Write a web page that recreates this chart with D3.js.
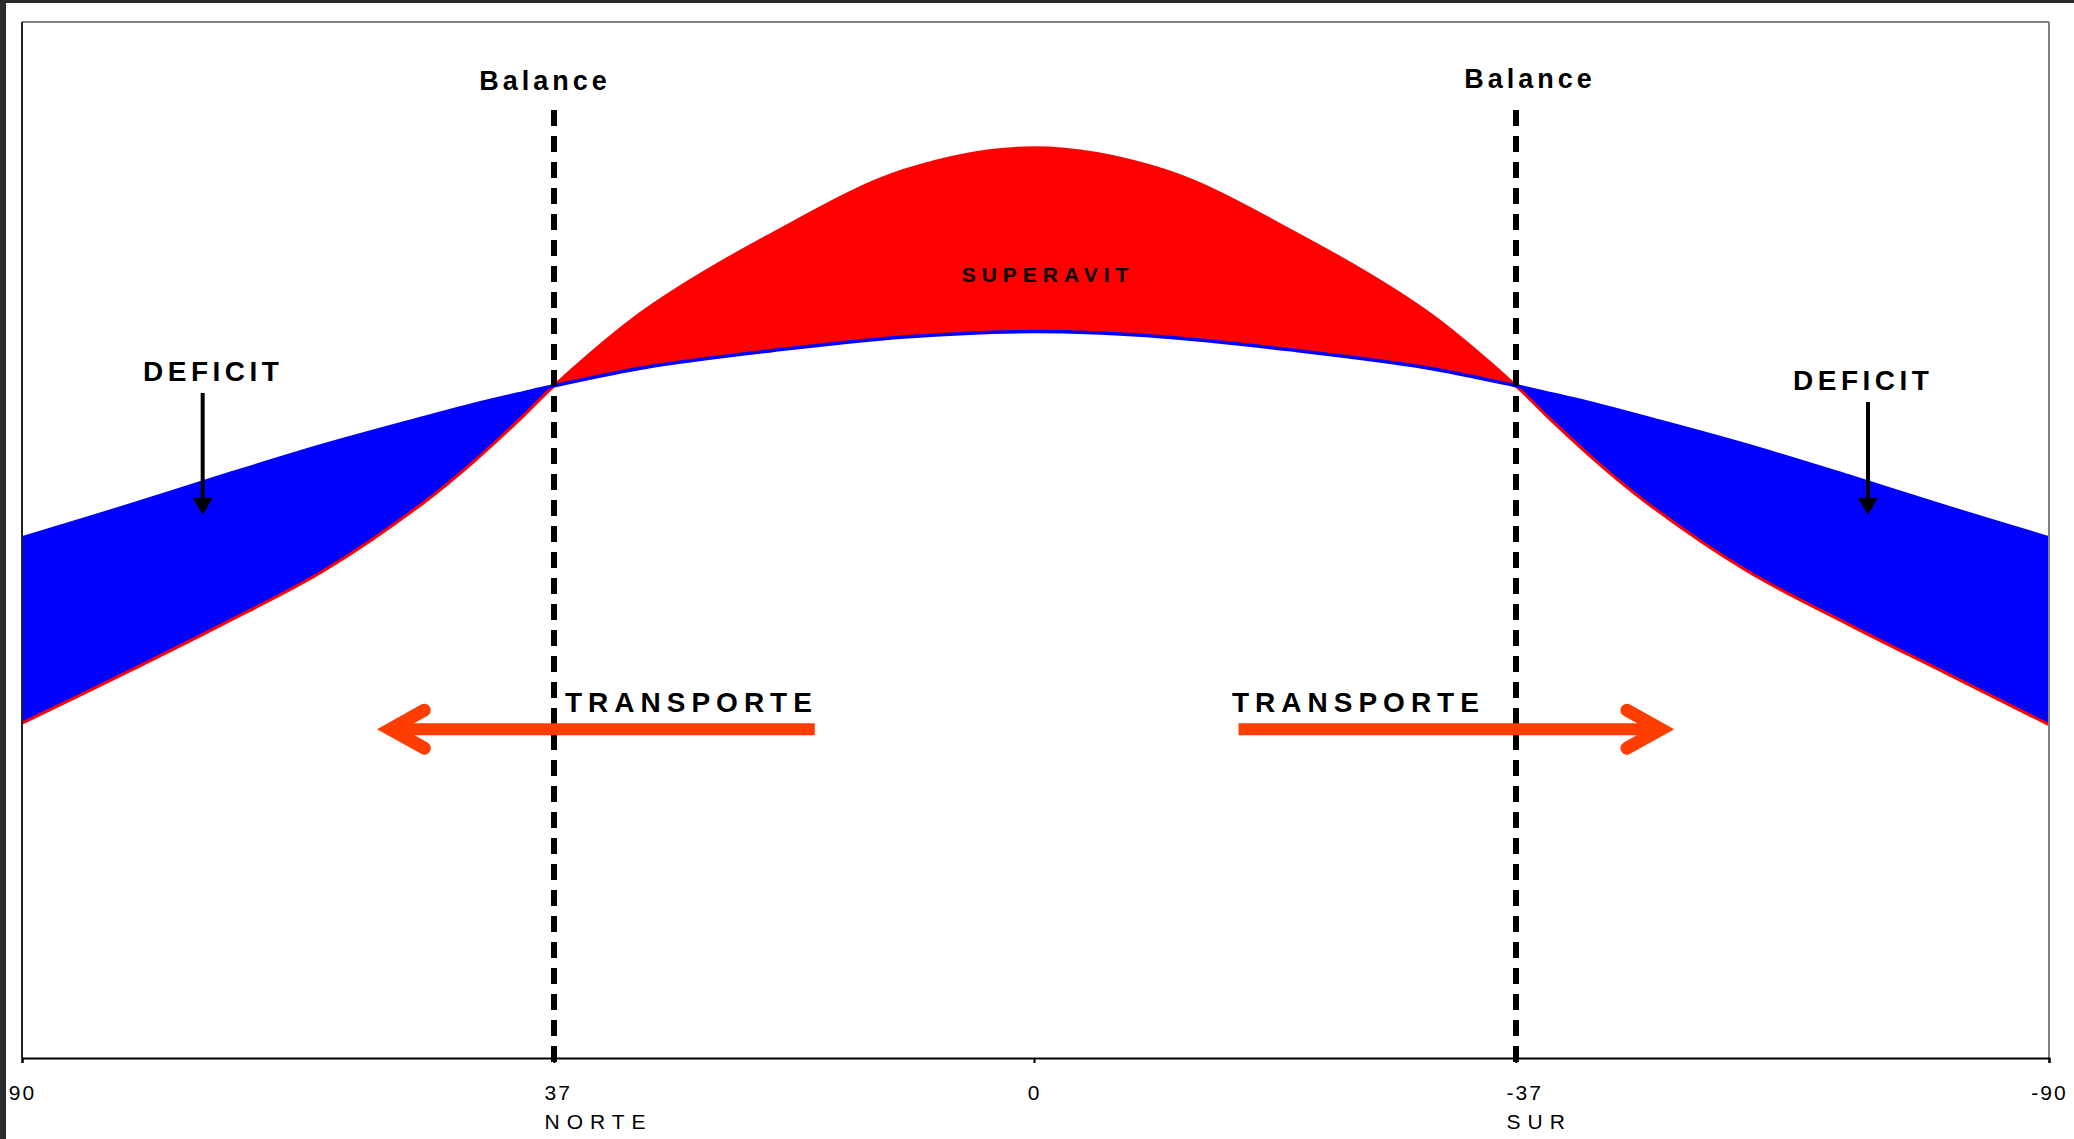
<!DOCTYPE html>
<meta charset="utf-8">
<style>
body { margin: 0; background: #fff; }
svg { display: block; font-family: "Liberation Sans", Arial, sans-serif; }
.label { font-weight: bold; fill: #000; }
.tick text { font-size: 21px; letter-spacing: 2px; fill: #000; }
.tick tspan { font-size: 21px; letter-spacing: 7px; }
</style>
<svg width="2074" height="1139"></svg>
<script src="https://cdn.jsdelivr.net/npm/d3@7"></script>
<script>

// latitude (deg), north positive
var latitudes = [90, 80, 70, 60, 50, 45, 40, 37, 30, 20, 10, 0,
                 -10, -20, -30, -37, -40, -45, -50, -60, -70, -80, -90];

// absorbed solar radiation (peaked curve, red)
var incoming = [113.1, 129.6, 146.6, 164.5, 187.6, 201.5, 217.1, 227.1, 252.6, 278.9, 299.9, 307.5,
                299.9, 278.9, 252.6, 227.1, 217.1, 201.5, 187.6, 164.5, 146.6, 129.6, 112.6];

// outgoing long-wave radiation (flatter curve, blue)
var outgoing = [175.7, 186.0, 196.7, 207.0, 216.3, 220.8, 224.8, 227.1, 233.3, 239.1, 243.6, 245.4,
                243.6, 239.1, 233.3, 227.1, 224.8, 220.8, 216.3, 207.0, 196.7, 186.0, 175.7];

var tickValues = [90, 37, 0, -37, -90];
var tickLabels = ["90", "37", "0", "-37", "-90"];
var tickSubLabels = ["", "NORTE", "", "SUR", ""];
var balanceLats = [37, -37];

var svg = d3.select("svg"),
    width = +svg.attr("width"),
    height = +svg.attr("height");

var data = latitudes.map(function(d, i) {
  return {lat: d, inc: incoming[i], out: outgoing[i]};
});

var plotLeft = 22, plotRight = 2049, plotTop = 22, plotBottom = 1058;

// the latitude axis is not linear in the original, stretch per segment
var x = d3.scaleLinear()
    .domain(tickValues)
    .range([plotLeft, 554, 1034, 1516, plotRight]);

var y = d3.scaleLinear()
    .domain([0, 350])
    .range([plotBottom, plotTop]);

var curve = d3.curveCatmullRom.alpha(0.5);

svg.append("rect").attr("width", width).attr("height", height).attr("fill", "#fff");

var defs = svg.append("defs");
defs.append("clipPath").attr("id", "clip-sur")
  .append("rect")
    .attr("x", x(37)).attr("y", 0)
    .attr("width", x(-37) - x(37)).attr("height", height);
var clipDef = defs.append("clipPath").attr("id", "clip-def");
clipDef.append("rect")
    .attr("x", 0).attr("y", 0).attr("width", x(37)).attr("height", height);
clipDef.append("rect")
    .attr("x", x(-37)).attr("y", 0).attr("width", width - x(-37)).attr("height", height);

var area = d3.area()
    .curve(curve)
    .x(function(d) { return x(d.lat); })
    .y0(function(d) { return y(d.inc); })
    .y1(function(d) { return y(d.out); });

svg.append("path")
    .datum(data)
    .attr("fill", "#0000ff")
    .attr("clip-path", "url(#clip-def)")
    .attr("d", area);

svg.append("path")
    .datum(data)
    .attr("fill", "#ff0000")
    .attr("clip-path", "url(#clip-sur)")
    .attr("d", area);

var line = d3.line()
    .curve(curve)
    .x(function(d) { return x(d.lat); });

svg.append("path")
    .datum(data)
    .attr("fill", "none")
    .attr("stroke", "#ff0000")
    .attr("stroke-width", 3)
    .attr("d", line.y(function(d) { return y(d.inc); }));

svg.append("path")
    .datum(data)
    .attr("fill", "none")
    .attr("stroke", "#0000ff")
    .attr("stroke-width", 3.5)
    .attr("d", line.y(function(d) { return y(d.out); }));

// plot frame
svg.append("line").attr("x1", plotLeft).attr("x2", plotRight).attr("y1", plotTop).attr("y2", plotTop)
    .attr("stroke", "#808080").attr("stroke-width", 2);
svg.append("line").attr("x1", plotRight).attr("x2", plotRight).attr("y1", plotTop).attr("y2", plotBottom)
    .attr("stroke", "#808080").attr("stroke-width", 2);
svg.append("line").attr("x1", plotLeft).attr("x2", plotLeft).attr("y1", plotTop).attr("y2", plotBottom)
    .attr("stroke", "#222").attr("stroke-width", 2);

// x axis
var axis = svg.append("g")
    .attr("transform", "translate(0," + plotBottom + ")")
    .call(d3.axisBottom(x)
      .tickValues(tickValues)
      .tickSize(5)
      .tickPadding(30)
      .tickFormat(function(d, i) { return tickLabels[i]; }));

axis.select(".domain").attr("stroke", "#000").attr("stroke-width", 2);
axis.selectAll(".tick line").attr("stroke", "#000").attr("stroke-width", 2);
axis.selectAll(".tick text")
    .attr("font-family", null)
    .attr("font-size", null)
    .attr("dy", "0.35em")
    .each(function(d, i) {
      var t = d3.select(this);
      if (tickSubLabels[i]) {
        t.attr("text-anchor", "start").attr("x", -10);
        t.append("tspan")
            .attr("x", -10)
            .attr("dy", 29)
            .text(tickSubLabels[i]);
      }
    });

// balance lines
svg.selectAll(".balance")
    .data(balanceLats)
  .enter().append("line")
    .attr("class", "balance")
    .attr("x1", function(d) { return x(d); })
    .attr("x2", function(d) { return x(d); })
    .attr("y1", 110)
    .attr("y2", plotBottom + 8)
    .attr("stroke", "#000")
    .attr("stroke-width", 6)
    .attr("stroke-dasharray", "16,10");

svg.selectAll(".balance-label")
    .data(balanceLats)
  .enter().append("text")
    .attr("class", "label")
    .attr("x", function(d, i) { return x(d) + (i ? 14 : -9); })
    .attr("y", function(d, i) { return i ? 88 : 90; })
    .attr("text-anchor", "middle")
    .attr("font-size", 27)
    .attr("letter-spacing", "4px")
    .text("Balance");

// labels
svg.append("text")
    .attr("class", "label")
    .attr("x", 1048).attr("y", 282)
    .attr("text-anchor", "middle")
    .attr("font-size", 21)
    .attr("letter-spacing", "6px")
    .text("SUPERAVIT");

var deficits = [{lat: 72, tx: 143, ty: 381}, {lat: -72, tx: 1793, ty: 390}];

svg.selectAll(".deficit")
    .data(deficits)
  .enter().append("text")
    .attr("class", "label")
    .attr("x", function(d) { return d.tx; })
    .attr("y", function(d) { return d.ty; })
    .attr("font-size", 28)
    .attr("letter-spacing", "4.5px")
    .text("DEFICIT");

svg.selectAll(".deficit-arrow")
    .data(deficits)
  .enter().append("line")
    .attr("x1", function(d) { return x(d.lat); })
    .attr("x2", function(d) { return x(d.lat); })
    .attr("y1", function(d) { return d.ty + 12; })
    .attr("y2", y(186))
    .attr("stroke", "#000")
    .attr("stroke-width", 4);

svg.selectAll(".deficit-head")
    .data(deficits)
  .enter().append("path")
    .attr("d", function(d) {
      var cx = x(d.lat), ty = y(183.5);
      return "M" + (cx - 10) + "," + (ty - 17) + "L" + (cx + 10) + "," + (ty - 17) + "L" + cx + "," + ty + "Z";
    })
    .attr("fill", "#000");

// transport arrows
var transports = [{from: 16.9, to: 54.5, tx: 565, dir: -1}, {from: -15.7, to: -52.6, tx: 1232, dir: 1}];
var ty = y(111.1);

svg.selectAll(".transport")
    .data(transports)
  .enter().append("text")
    .attr("class", "label")
    .attr("x", function(d) { return d.tx; })
    .attr("y", 712)
    .attr("font-size", 28)
    .attr("letter-spacing", "6px")
    .text("TRANSPORTE");

svg.selectAll(".transport-shaft")
    .data(transports)
  .enter().append("line")
    .attr("x1", function(d) { return x(d.from); })
    .attr("x2", function(d) { return x(d.to) - d.dir * 10; })
    .attr("y1", ty).attr("y2", ty)
    .attr("stroke", "#ff3d00")
    .attr("stroke-width", 12);

svg.selectAll(".transport-head")
    .data(transports)
  .enter().append("path")
    .attr("d", function(d) {
      var vx = x(d.to) - d.dir * 12, ax = vx - d.dir * 34;
      return "M" + ax + "," + (ty - 19) + "L" + vx + "," + ty + "L" + ax + "," + (ty + 19);
    })
    .attr("fill", "none")
    .attr("stroke", "#ff3d00")
    .attr("stroke-width", 13)
    .attr("stroke-linecap", "round")
    .attr("stroke-linejoin", "miter");

// dark viewer border
svg.append("rect").attr("x", 0).attr("y", 0).attr("width", width).attr("height", 3).attr("fill", "#2b2b2b");
svg.append("rect").attr("x", 0).attr("y", 0).attr("width", 6).attr("height", height).attr("fill", "#2b2b2b");

</script>
